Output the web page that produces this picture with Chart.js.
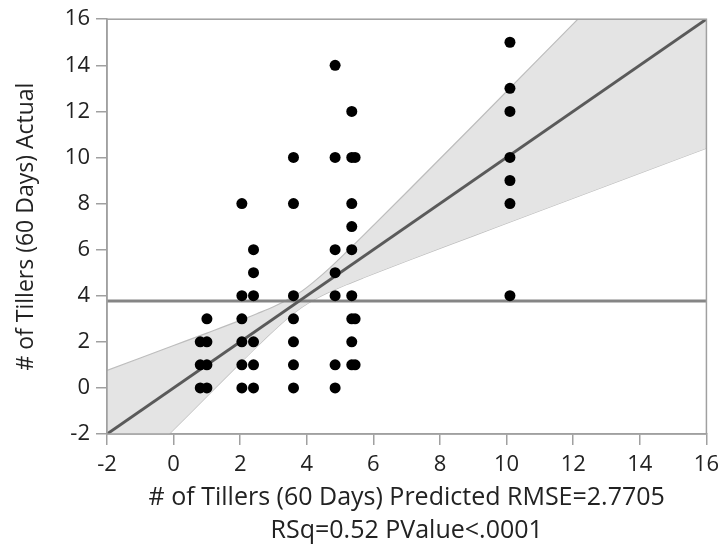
<!DOCTYPE html>
<html>
<head>
<meta charset="utf-8">
<script src="https://cdn.jsdelivr.net/npm/chart.js"></script>
<style>
  html, body { margin: 0; padding: 0; background: #fff; }
  #wrap { width: 726px; height: 548px; }
</style>
</head>
<body>
<div id="wrap"><canvas id="chart" width="726" height="548"></canvas></div>
<script>
// observed points: predicted (x) vs actual (y)
const predicted = [
  0.8, 0.8, 0.8,
  1, 1, 1, 1,
  2.05, 2.05, 2.05, 2.05, 2.05, 2.05,
  2.4, 2.4, 2.4, 2.4, 2.4, 2.4,
  3.6, 3.6, 3.6, 3.6, 3.6, 3.6, 3.6,
  4.85, 4.85, 4.85, 4.85, 4.85, 4.85, 4.85,
  5.35, 5.35, 5.35, 5.35, 5.35, 5.35, 5.35, 5.35, 5.35,
  5.45, 5.45, 5.45,
  10.1, 10.1, 10.1, 10.1, 10.1, 10.1, 10.1
];
const actual = [
  2, 1, 0,
  3, 2, 1, 0,
  8, 4, 3, 2, 1, 0,
  6, 5, 4, 2, 1, 0,
  10, 8, 4, 3, 2, 1, 0,
  14, 10, 6, 5, 4, 1, 0,
  12, 10, 8, 7, 6, 4, 3, 2, 1,
  10, 3, 1,
  15, 13, 12, 10, 9, 8, 4
];

// fit line (actual = predicted) and mean of actual
const fitX = [-2, 16];
const fitY = [-2, 16];
const meanY = 3.77;

// confidence curves
const bandX = [-2, -1, 0, 1, 2, 2.5, 3, 3.5, 3.85, 4.2, 4.7, 5.2, 5.7, 7, 9, 11, 12, 14, 16];
const bandUpper = [0.76, 1.3, 1.84, 2.38, 2.93, 3.22, 3.52, 3.89, 4.2, 4.59, 5.22, 5.91, 6.62, 8.49, 11.4, 14.33, 15.8, 18.7, 21.6];
const bandLower = [-4.71, -3.26, -1.81, -0.36, 1.08, 1.79, 2.48, 3.12, 3.5, 3.82, 4.18, 4.49, 4.78, 5.51, 6.6, 7.69, 8.23, 9.32, 10.4];

const axisTicks = [-2, 0, 2, 4, 6, 8, 10, 12, 14, 16];

const xTitle = ["# of Tillers (60 Days) Predicted RMSE=2.7705", "RSq=0.52 PValue<.0001"];
const yTitle = "# of Tillers (60 Days) Actual";

const FONT = "'Open Sans', 'Noto Sans', sans-serif";
const AXIS_GRAY = "#a0a0a0";

const toPts = (xs, ys) => xs.map((x, i) => ({ x: x, y: ys[i] }));

// border on top and right of the plot frame
const framePlugin = {
  id: "frame",
  afterDatasetsDraw(chart) {
    const { ctx, chartArea: a } = chart;
    ctx.save();
    ctx.strokeStyle = AXIS_GRAY;
    ctx.lineWidth = 1.5;
    ctx.strokeRect(a.left, a.top, a.right - a.left, a.bottom - a.top);
    ctx.restore();
  }
};

const ctx = document.getElementById("chart").getContext("2d");
new Chart(ctx, {
  type: "scatter",
  data: {
    datasets: [
      {
        label: "points",
        data: toPts(predicted, actual),
        backgroundColor: "#000",
        borderWidth: 0,
        pointRadius: 5.5,
        order: 0
      },
      {
        label: "fit",
        type: "line",
        data: toPts(fitX, fitY),
        borderColor: "#5a5a5a",
        borderWidth: 3,
        pointRadius: 0,
        fill: false,
        order: 1
      },
      {
        label: "mean",
        type: "line",
        data: toPts(fitX, [meanY, meanY]),
        borderColor: "#858585",
        borderWidth: 3,
        pointRadius: 0,
        fill: false,
        order: 2
      },
      {
        label: "upper",
        type: "line",
        data: toPts(bandX, bandUpper),
        borderColor: "#bdbdbd",
        borderWidth: 1.2,
        backgroundColor: "#e4e4e4",
        pointRadius: 0,
        cubicInterpolationMode: "monotone",
        fill: "+1",
        order: 3
      },
      {
        label: "lower",
        type: "line",
        data: toPts(bandX, bandLower),
        borderColor: "#bdbdbd",
        borderWidth: 1.2,
        pointRadius: 0,
        cubicInterpolationMode: "monotone",
        fill: false,
        order: 4
      }
    ]
  },
  options: {
    responsive: false,
    animation: false,
    devicePixelRatio: 1,
    layout: { padding: { left: 0, right: 16, top: 17, bottom: 0 } },
    plugins: {
      legend: { display: false },
      tooltip: { enabled: false }
    },
    scales: {
      x: {
        type: "linear",
        min: -2,
        max: 16,
        afterFit: (scale) => { scale.height = 114; },
        afterBuildTicks: (scale) => { scale.ticks = axisTicks.map((v) => ({ value: v })); },
        grid: { drawOnChartArea: false, drawTicks: true, tickLength: 11, color: AXIS_GRAY, lineWidth: 1.5 },
        border: { color: AXIS_GRAY, width: 1.5 },
        ticks: { color: "#222", padding: 7, maxRotation: 0, font: { family: FONT, size: 22 } },
        title: {
          display: true,
          text: xTitle,
          color: "#222",
          padding: { top: 0, bottom: 1 },
          font: { family: FONT, size: 25, lineHeight: 1.32 }
        }
      },
      y: {
        type: "linear",
        min: -2,
        max: 16,
        afterFit: (scale) => { scale.width = 107; },
        afterBuildTicks: (scale) => { scale.ticks = axisTicks.map((v) => ({ value: v })); },
        grid: { drawOnChartArea: false, drawTicks: true, tickLength: 11, color: AXIS_GRAY, lineWidth: 1.5 },
        border: { color: AXIS_GRAY, width: 1.5 },
        ticks: { color: "#222", padding: 6, font: { family: FONT, size: 22 } },
        title: {
          display: true,
          text: yTitle,
          color: "#222",
          padding: { top: 13, bottom: 0 },
          font: { family: FONT, size: 23, lineHeight: 1.2 }
        }
      }
    }
  },
  plugins: [framePlugin]
});
</script>
</body>
</html>
